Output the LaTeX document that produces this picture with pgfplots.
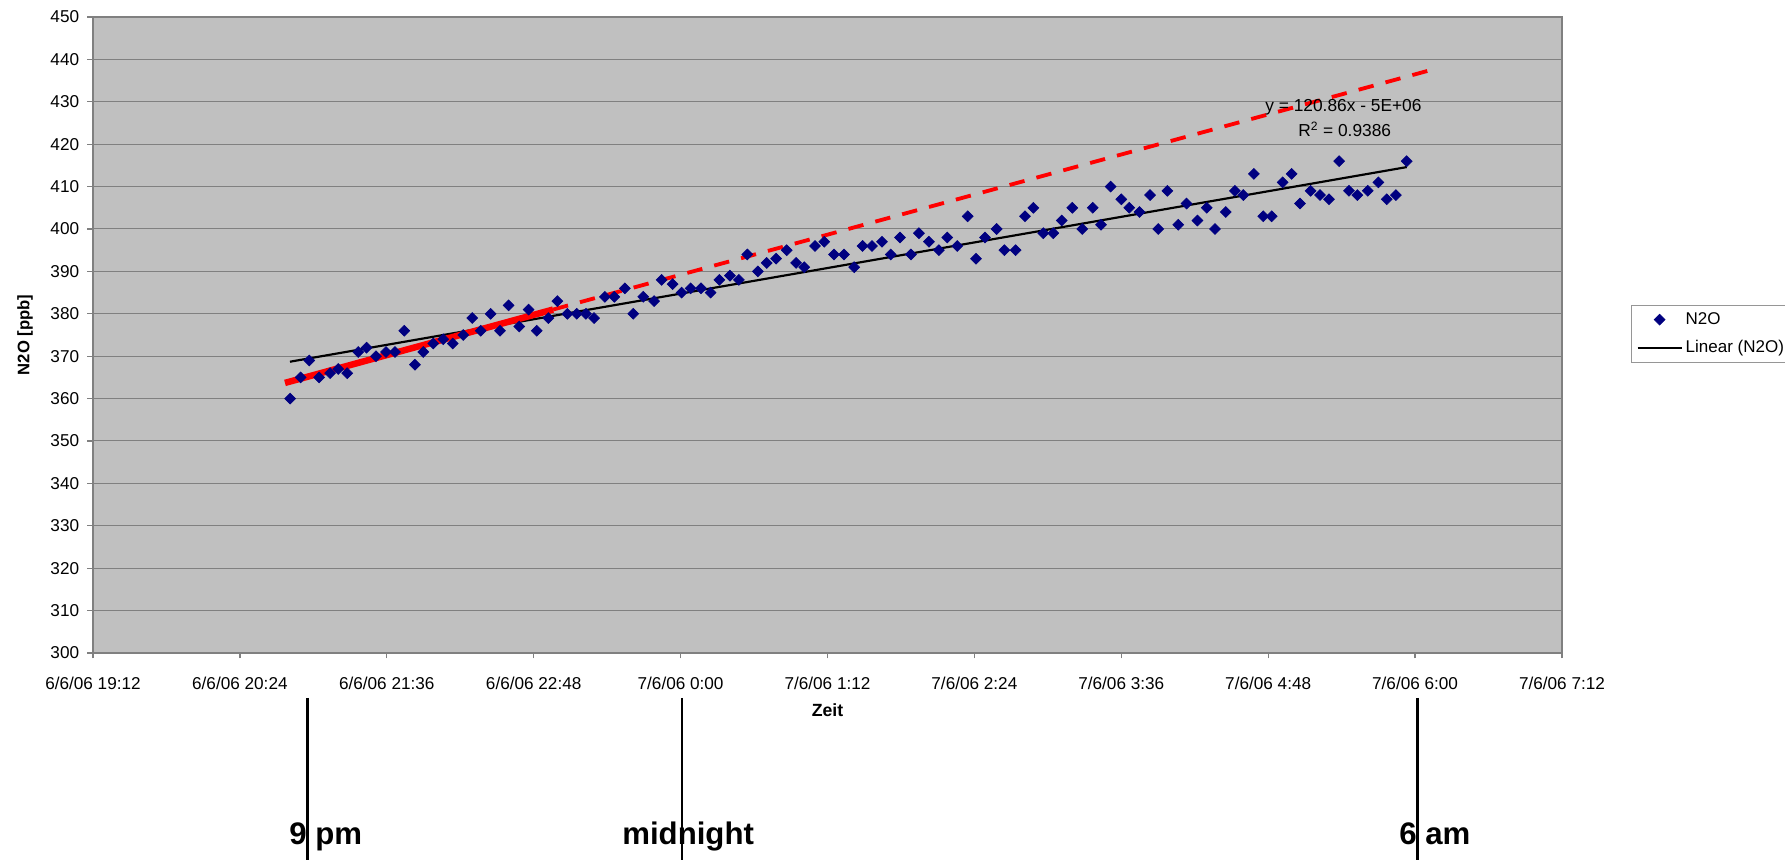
\documentclass[border=0pt]{standalone}
\usepackage{fontspec}
\setmainfont{Liberation Sans}
\usepackage{pgfplots}
\usepackage{pgfplotstable}
\pgfplotsset{compat=1.18}
\definecolor{plotbg}{RGB}{192,192,192}
\definecolor{gridgray}{RGB}{128,128,128}
\definecolor{leggray}{RGB}{150,150,150}
\definecolor{navy}{RGB}{0,0,128}
\definecolor{xlred}{RGB}{255,0,0}
\pgfplotsset{
  legmark/.style={legend image code/.code={\path (0pt,0pt) (26.4pt,0pt); \draw[##1] plot coordinates {(13.2pt,0pt)};}},
  legline/.style={legend image code/.code={\draw[##1] (0pt,0pt) -- (26.4pt,0pt);}},
}

% t = minutes after 6/6/06 19:12, v = N2O [ppb]
\pgfplotstableread{
t v
96.6 360
101.8 365
106.0 369
110.8 365
116.2 366
120.2 367
124.6 366
130.0 371
134.1 372
138.7 370
143.6 371
148.0 371
152.6 376
157.8 368
161.9 371
166.8 373
171.7 374
176.3 373
181.5 375
185.9 379
190.0 376
194.9 380
199.5 376
203.7 382
208.9 377
213.5 381
217.5 376
223.2 379
227.6 383
232.5 380
237.1 380
241.6 380
245.6 379
250.9 384
255.5 384
260.7 386
264.8 380
269.7 384
275.0 383
278.7 388
284.1 387
288.5 385
292.9 386
298.0 386
302.7 385
307.0 388
312.2 389
316.6 388
320.7 394
325.9 390
330.2 392
334.8 393
340.0 395
344.6 392
348.6 391
353.9 396
358.4 397
363.2 394
368.1 394
373.1 391
377.2 396
381.8 396
386.7 397
391.0 394
395.5 398
400.9 394
404.8 399
409.7 397
414.6 395
418.7 398
423.6 396
428.7 403
432.8 393
437.2 398
442.9 400
446.7 395
452.2 395
456.8 403
460.9 405
465.8 399
470.7 399
474.8 402
480.0 405
484.9 400
490.0 405
494.1 401
498.8 410
504.0 407
507.9 405
512.9 404
518.1 408
522.1 400
526.6 409
531.9 401
536.0 406
541.3 402
545.9 405
549.9 400
555.2 404
559.7 409
563.8 408
569.0 413
573.6 403
577.7 403
583.1 411
587.5 413
591.6 406
596.8 409
601.4 408
605.8 407
610.8 416
615.6 409
619.7 408
624.8 409
630.0 411
634.1 407
638.6 408
643.9 416
}\nodata

\begin{document}
\begin{tikzpicture}
\begin{axis}[
  at={(0,0)}, anchor=south west,
  scale only axis, width=881.4pt, height=381.6pt,
  xmin=0, xmax=720, ymin=300, ymax=450,
  xtick={0,72,144,216,288,360,432,504,576,648,720},
  xticklabels={{6/6/06 19:12},{6/6/06 20:24},{6/6/06 21:36},{6/6/06 22:48},{7/6/06 0:00},{7/6/06 1:12},{7/6/06 2:24},{7/6/06 3:36},{7/6/06 4:48},{7/6/06 6:00},{7/6/06 7:12}},
  ytick={300,310,...,450},
  tick pos=left, tick align=outside, major tick length=3.3pt,
  every tick/.style={gridgray, line width=0.8pt},
  axis line style={gridgray, line width=1.1pt},
  ymajorgrids, major grid style={gridgray, line width=0.6pt},
  axis background/.style={fill=plotbg},
  tick label style={font=\fontsize{10.3}{12}\selectfont, black},
  /pgf/number format/assume math mode=true,
  xticklabel style={yshift=-7.5pt},
  yticklabel style={xshift=-1.5pt},
  ylabel={N2O [ppb]},
  ylabel style={font=\bfseries\fontsize{10}{12}\selectfont, at={(axis description cs:-0.0463,0.5)}, anchor=center},
  xlabel={Zeit},
  xlabel style={font=\bfseries\fontsize{10.6}{12}\selectfont, at={(axis description cs:0.5,-0.0907)}, anchor=center},
  clip=false,
  legend style={at={(1.047,0.5474)}, anchor=north west, draw=leggray, line width=0.6pt, fill=white,
    font=\fontsize{10.2}{12}\selectfont, inner xsep=3pt, inner ysep=3.9pt,
    nodes={inner sep=0pt, text height=7.3pt, text depth=2.1pt},
    row sep=7.6pt, /tikz/every odd column/.append style={column sep=1.8pt},
    cells={anchor=west}},
]
\addplot[only marks, mark=square*, mark size=2.3pt, navy,
  mark options={rotate=45, fill=navy, draw=navy, line width=0.4pt}, legmark]
  table[x=t, y=v] {\nodata};
\addlegendentry{N2O}
\addplot[black, line width=1.3pt, legline]
  coordinates {(96.55,368.7) (643.9,414.6)};
\addlegendentry{Linear (N2O)}
\addplot[xlred, line width=2.3pt, dash pattern=on 9.3pt off 7.4pt, forget plot]
  coordinates {(225.5,381.0) (657.3,437.7)};
\addplot[xlred, line width=3.9pt, forget plot]
  coordinates {(94.1,363.7) (225.5,381.0)};

\node[anchor=base, font=\fontsize{10.4}{12}\selectfont, inner sep=0pt] at (axis cs:612.9,427.7) {y = 120.86x - 5E+06};
\node[anchor=base, font=\fontsize{10.4}{12}\selectfont, inner sep=0pt] at (axis cs:613.5,421.8) {R\textsuperscript{2} = 0.9386};

\draw[black, line width=1.6pt] ([yshift=-27pt]axis cs:105.0,300) -- ([yshift=-126pt]axis cs:105.0,300);
\draw[black, line width=1.6pt] ([yshift=-27pt]axis cs:288.7,300) -- ([yshift=-126pt]axis cs:288.7,300);
\draw[black, line width=1.6pt] ([yshift=-27pt]axis cs:649.1,300) -- ([yshift=-126pt]axis cs:649.1,300);
\node[anchor=base west, font=\bfseries\fontsize{18.7}{22}\selectfont, inner sep=0pt] at ([yshift=-114.6pt]axis cs:96.1,300) {9 pm};
\node[anchor=base west, font=\bfseries\fontsize{18.7}{22}\selectfont, inner sep=0pt] at ([yshift=-114.6pt]axis cs:259.3,300) {midnight};
\node[anchor=base west, font=\bfseries\fontsize{18.7}{22}\selectfont, inner sep=0pt] at ([yshift=-114.6pt]axis cs:640.1,300) {6 am};
\end{axis}
\pgfresetboundingbox
\path[use as bounding box] (-55.8pt,-124.2pt) rectangle (1015.2pt,391.8pt);
\end{tikzpicture}
\end{document}
